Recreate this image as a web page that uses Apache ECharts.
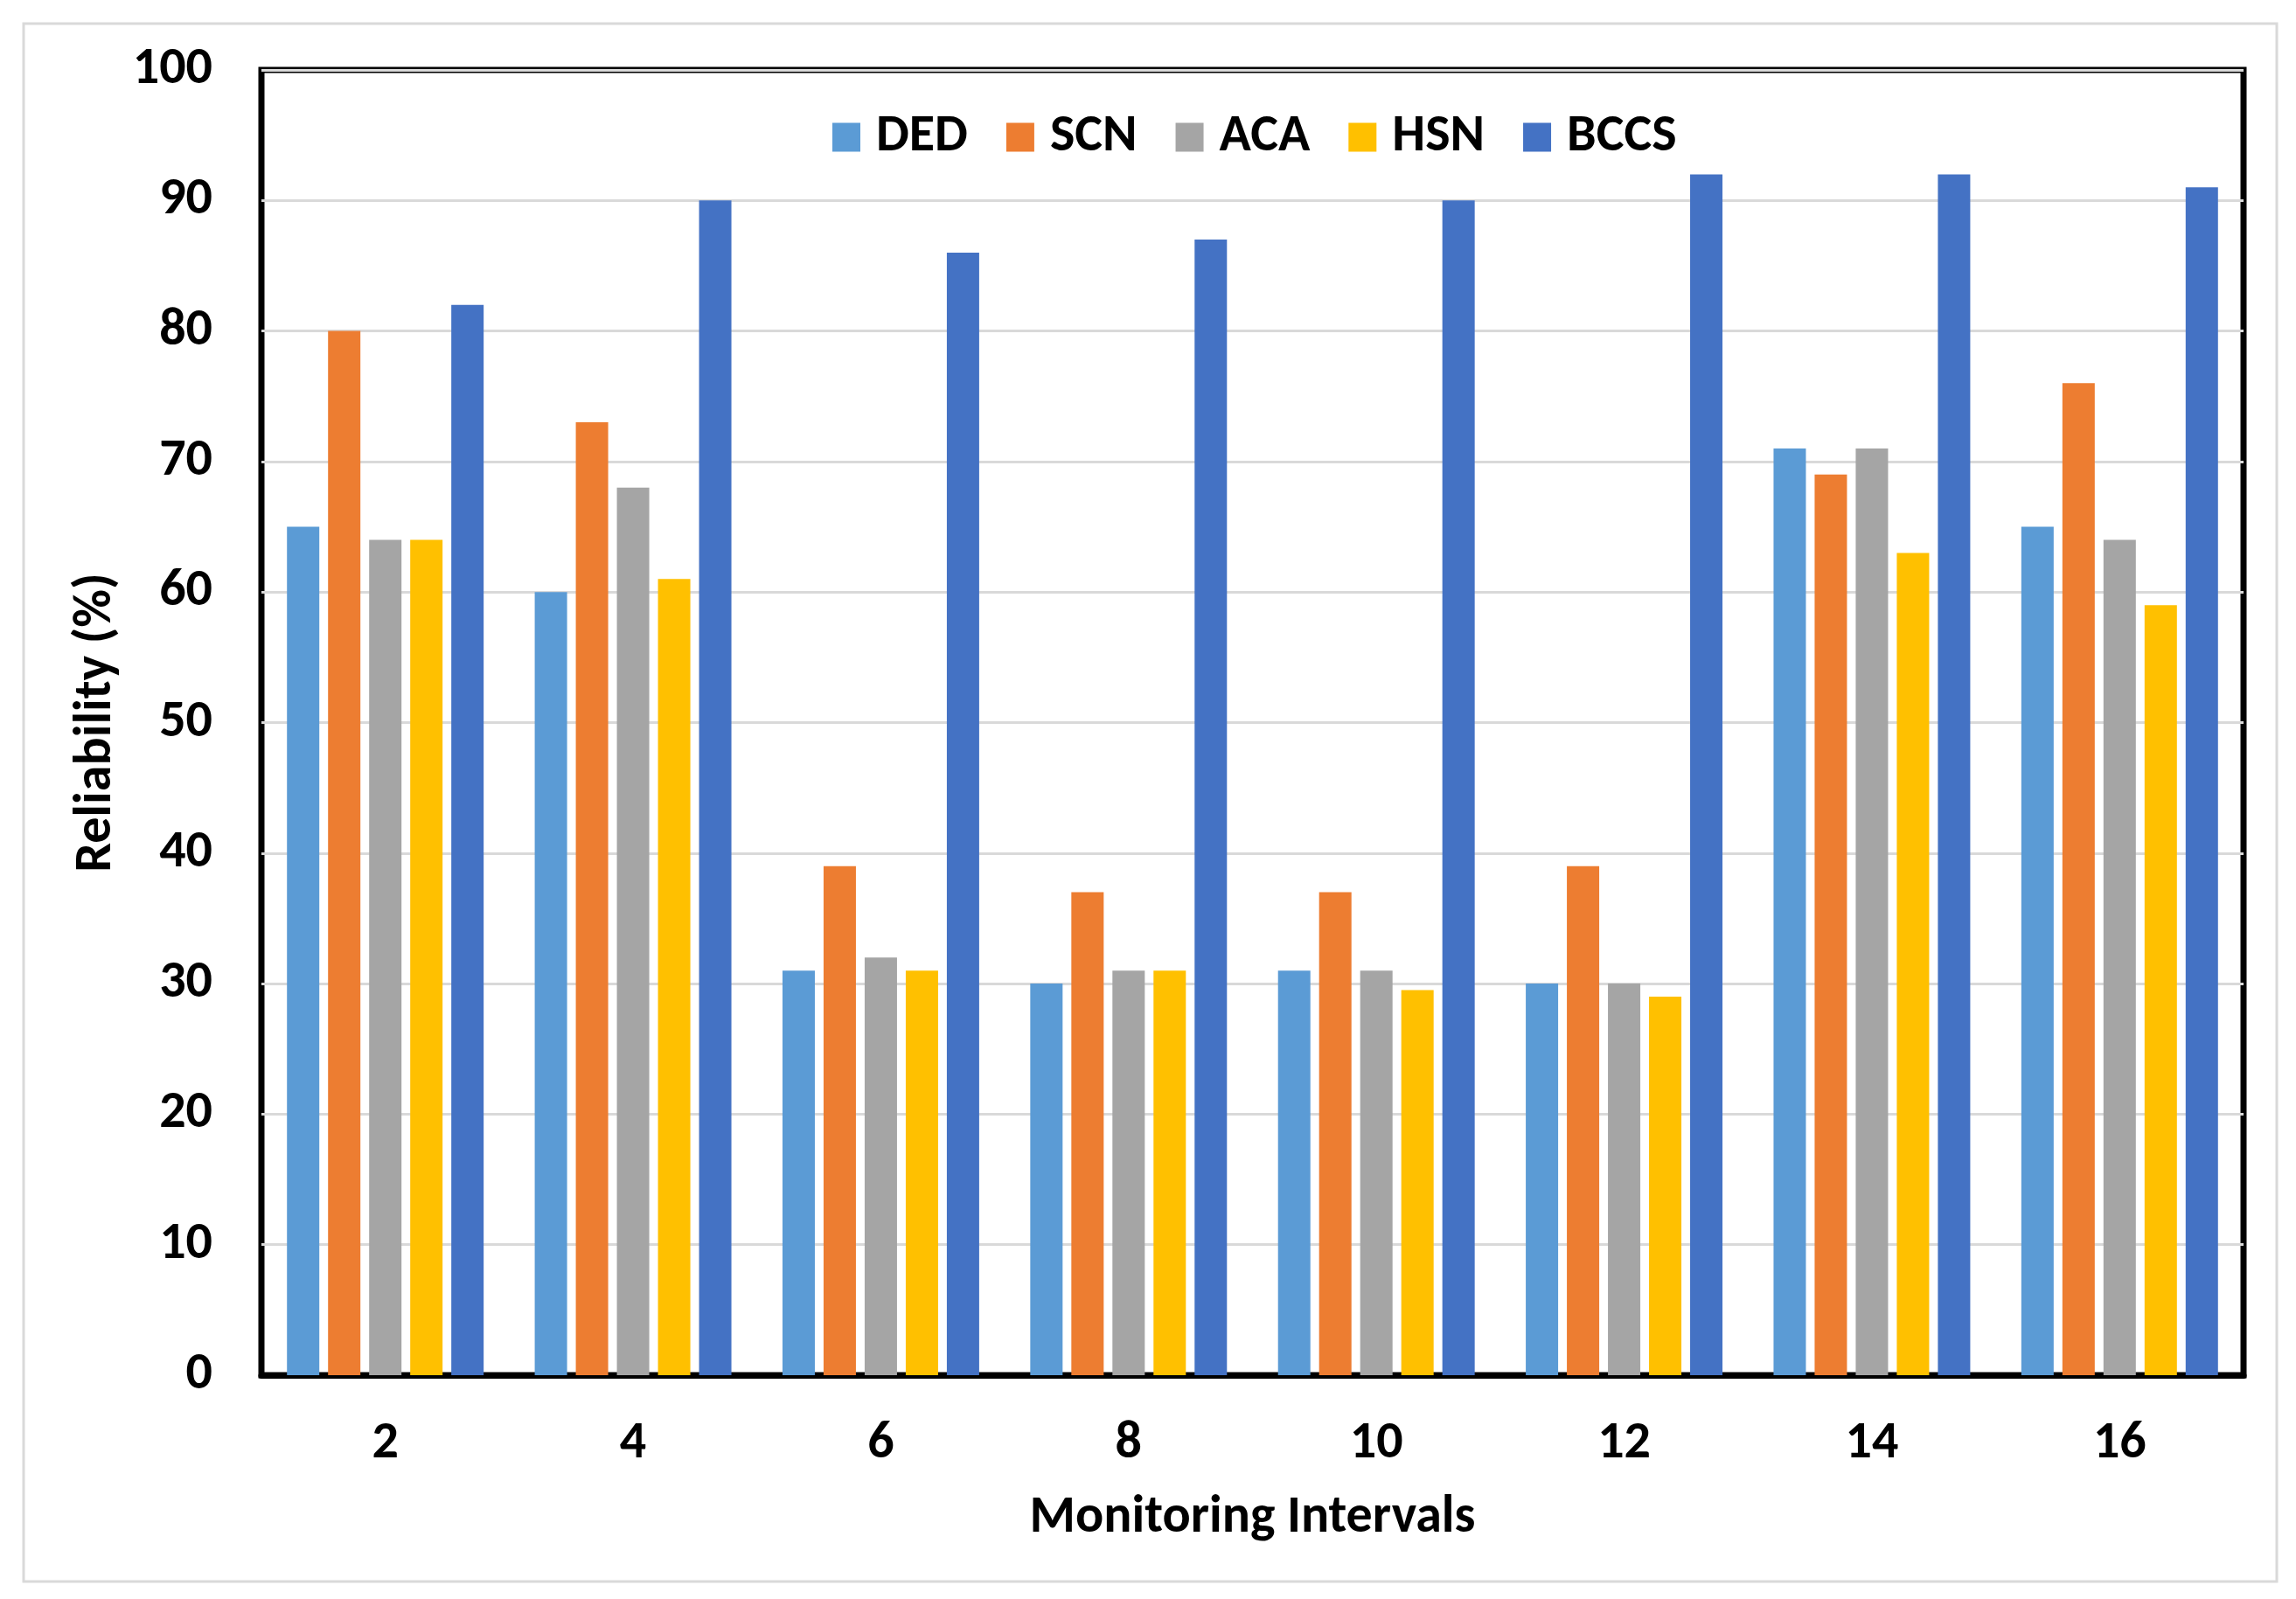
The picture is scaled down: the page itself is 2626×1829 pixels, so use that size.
<!DOCTYPE html>
<html>
<head>
<meta charset="utf-8">
<script src="https://cdn.jsdelivr.net/npm/echarts@6/dist/echarts.min.js"></script>
<style>
html,body{margin:0;padding:0;background:#fff;}
#c{width:2626px;height:1829px;}
</style>
</head>
<body>
<div id="c"></div>
<script>
var categories = ['2','4','6','8','10','12','14','16'];
var seriesNames = ['DED','SCN','ACA','HSN','BCCS'];
var DED  = [65, 60, 31, 30, 31, 30, 71, 65];
var SCN  = [80, 73, 39, 37, 37, 39, 69, 76];
var ACA  = [64, 68, 32, 31, 31, 30, 71, 64];
var HSN  = [64, 61, 31, 31, 29.5, 29, 63, 59];
var BCCS = [82, 90, 86, 87, 90, 92, 92, 91];
var yTicks = [0,10,20,30,40,50,60,70,80,90,100];

var colors = ['#5B9BD5','#ED7D31','#A5A5A5','#FFC000','#4472C4'];
var values = [DED, SCN, ACA, HSN, BCCS];
var FONT = "Carlito, Calibri, 'Liberation Sans Narrow', 'DejaVu Sans Condensed', 'Open Sans', sans-serif";

var chart = echarts.init(document.getElementById('c'), null, {renderer:'canvas'});
var series = seriesNames.map(function(n,i){
  return {
    name: n, type: 'bar', data: values[i],
    barWidth: 37, barGap: '27%',
    itemStyle: {color: colors[i]},
    z: 2
  };
});
chart.setOption({
  animation: false,
  backgroundColor: '#fff',
  color: colors,
  textStyle: {fontFamily: FONT},
  graphic: [{
    type: 'rect', silent: true, z: -10,
    shape: {x: 27, y: 27, width: 2577, height: 1782},
    style: {fill: 'none', stroke: '#d9d9d9', lineWidth: 3}
  }],
  legend: {
    data: seriesNames,
    left: 947, top: 122,
    itemWidth: 32, itemHeight: 33, itemGap: 44,
    icon: 'rect',
    textStyle: {fontFamily: FONT, fontSize: 60, fontWeight: 'bold', color: '#000', padding: [0,0,0,13]}
  },
  grid: {
    left: 299, right: 60, top: 80, bottom: 256,
    show: true, borderColor: '#000', borderWidth: 7, backgroundColor: 'transparent'
  },
  xAxis: {
    type: 'category', data: categories,
    name: 'Monitoring Intervals', nameLocation: 'middle', nameGap: 134,
    nameTextStyle: {fontFamily: FONT, fontSize: 60, fontWeight: 'bold', color: '#000'},
    axisLine: {show: true, lineStyle: {color: '#000', width: 7}},
    axisTick: {show: false},
    axisLabel: {margin: 49, fontFamily: FONT, fontSize: 60, fontWeight: 'bold', color: '#000'}
  },
  yAxis: {
    type: 'value', min: 0, max: 100, interval: 10,
    name: 'Reliability (%)', nameLocation: 'middle', nameGap: 156, nameRotate: 90,
    nameTextStyle: {fontFamily: FONT, fontSize: 60, fontWeight: 'bold', color: '#000'},
    axisLine: {show: false},
    axisTick: {show: false},
    axisLabel: {margin: 56, fontFamily: FONT, fontSize: 60, fontWeight: 'bold', color: '#000',
      formatter: function(v){ return yTicks.indexOf(v) >= 0 ? String(v) : ''; }},
    splitLine: {show: true, lineStyle: {color: '#d9d9d9', width: 3}}
  },
  series: series
});
</script>
</body>
</html>
